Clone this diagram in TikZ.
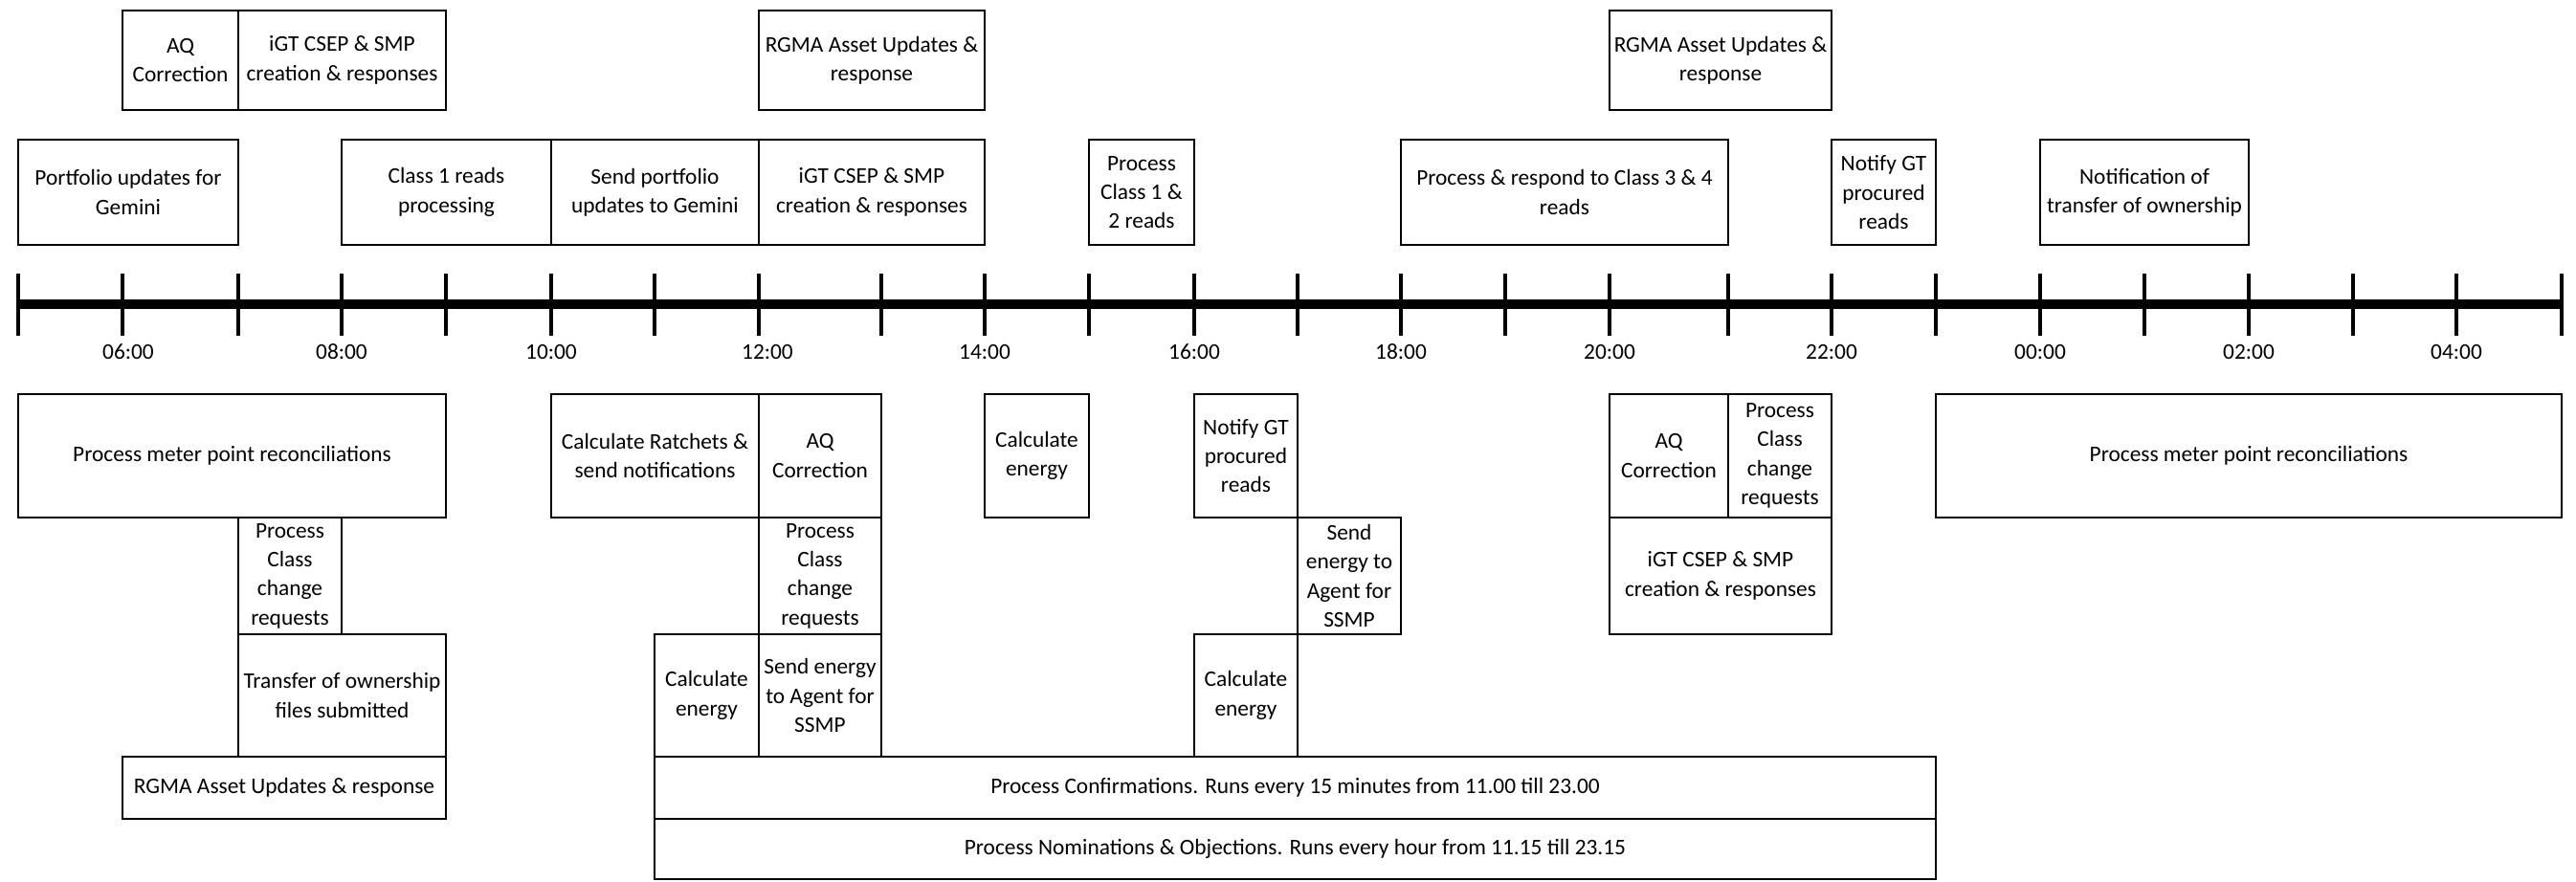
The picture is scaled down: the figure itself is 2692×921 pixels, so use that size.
\documentclass[tikz,border=0pt]{standalone}
\usepackage{fontspec}
\setmainfont{Carlito}
\usepackage{tikz}

\tikzset{
  box/.style={line width=0.9pt},
  txt/.style={align=center, inner sep=0pt},
  axis/.style={line width=6pt},
  tick/.style={line width=2.3pt}
}

\begin{document}
\begin{tikzpicture}[x=0.02cm, y=-0.02cm, font=\fontsize{13.3}{17.3}\selectfont]
        \useasboundingbox (0,0) rectangle (2692,921);

        % time axis
        \draw [axis]  (19,318) -- (2677,318);                          %
        \foreach \x in {19,128,249,357,466,576,684,793,921,1029,1138,1248,1356,
                        1464,1573,1682,1806,1914,2023,2132,2241,2350,2459,2567,2677}
          \draw [tick] (\x,286) -- (\x,351);                           %
        \foreach \x/\t [count=\i] in {134/06:00,357/08:00,576/10:00,802/12:00,1029/14:00,1248/16:00,
                        1464/18:00,1682/20:00,1914/22:00,2132/00:00,2350/02:00,2567/04:00}
          \node (hour\i) at (\x,368) {\t};                            %

        % top row
        \draw [box] (128,11) rectangle (249,115);                      %AQ
        \node (aqTop) [txt] at (188.5,63) {AQ\\Correction};            %
        \draw [box] (249,11) rectangle (466,115);                      %iGT
        \node (igtTop) [txt] at (357.5,63) {iGT CSEP \& SMP\\creation \& responses};
        \draw [box] (793,11) rectangle (1029,115);                     %RGMA
        \node (rgmaNoon) [txt] at (911,63) {RGMA Asset Updates \&\\response};
        \draw [box] (1682,11) rectangle (1914,115);                    %RGMA
        \node (rgmaEve) [txt] at (1798,63) {RGMA Asset Updates \&\\response};

        % second row
        \draw [box] (19,146) rectangle (249,256);                      %
        \node (portfolio) [txt] at (134,201) {Portfolio updates for\\Gemini};
        \draw [box] (357,146) rectangle (576,256);                     %
        \node (classOne) [txt] at (466.5,201) {Class 1 reads\\processing};
        \draw [box] (576,146) rectangle (793,256);                     %
        \node (sendPortfolio) [txt] at (684.5,201) {Send portfolio\\updates to Gemini};
        \draw [box] (793,146) rectangle (1029,256);                    %
        \node (igtMid) [txt] at (911,201) {iGT CSEP \& SMP\\creation \& responses};
        \draw [box] (1138,146) rectangle (1248,256);                   %
        \node (classOneTwo) [txt] at (1193,201) {Process\\Class 1 \&\\2 reads};
        \draw [box] (1464,146) rectangle (1806,256);                   %
        \node (classThreeFour) [txt] at (1635,201) {Process \& respond to Class 3 \& 4\\reads};
        \draw [box] (1914,146) rectangle (2023,256);                   %
        \node (notifyTop) [txt] at (1968.5,201) {Notify GT\\procured\\reads};
        \draw [box] (2132,146) rectangle (2350,256);                   %
        \node (transferTop) [txt] at (2241,201) {Notification of\\transfer of ownership};

        % below the axis, morning
        \draw [box] (19,412) rectangle (466,541);                      %
        \node (reconAm) [txt] at (242.5,476.5) {Process meter point reconciliations};
        \draw [box] (249,541) rectangle (357,663);                     %
        \node (classChgAm) [txt] at (303,602) {Process\\Class\\change\\requests};
        \draw [box] (249,663) rectangle (466,791);                     %
        \node (transferFiles) [txt] at (357.5,727) {Transfer of ownership\\files submitted};
        \draw [box] (128,791) rectangle (466,856);                     %
        \node (rgmaLow) [txt] at (297,823.5) {RGMA Asset Updates \& response};

        % below the axis, noon
        \draw [box] (576,412) rectangle (793,541);                     %
        \node (ratchets) [txt] at (684.5,476.5) {Calculate Ratchets \&\\send notifications};
        \draw [box] (793,412) rectangle (921,541);                     %
        \node (aqNoon) [txt] at (857,476.5) {AQ\\Correction};
        \draw [box] (793,541) rectangle (921,663);                     %
        \node (classChgNoon) [txt] at (857,602) {Process\\Class\\change\\requests};
        \draw [box] (684,663) rectangle (793,791);                     %
        \node (energyNoon) [txt] at (738.5,727) {Calculate\\energy};
        \draw [box] (793,663) rectangle (921,791);                     %
        \node (sendEnergyNoon) [txt] at (857,727) {Send energy\\to Agent for\\SSMP};
        \draw [box] (684,791) rectangle (2023,856);                    %
        \node (confirm) [txt] at (1353.5,823.5) {Process Confirmations. Runs every 15 minutes from 11.00 till 23.00};
        \draw [box] (684,856) rectangle (2023,919);                    %
        \node (nominate) [txt] at (1353.5,887.5) {Process Nominations \& Objections. Runs every hour from 11.15 till 23.15};

        % below the axis, afternoon
        \draw [box] (1029,412) rectangle (1138,541);                   %
        \node (energyPm) [txt] at (1083.5,476.5) {Calculate\\energy};
        \draw [box] (1248,412) rectangle (1356,541);                   %
        \node (notifyLow) [txt] at (1302,476.5) {Notify GT\\procured\\reads};
        \draw [box] (1356,541) rectangle (1464,663);                   %
        \node (sendEnergyPm) [txt] at (1410,602) {Send\\energy to\\Agent for\\SSMP};
        \draw [box] (1248,663) rectangle (1356,791);                   %
        \node (energyLate) [txt] at (1302,727) {Calculate\\energy};

        % below the axis, evening
        \draw [box] (1682,412) rectangle (1806,541);                   %
        \node (aqEve) [txt] at (1744,476.5) {AQ\\Correction};
        \draw [box] (1806,412) rectangle (1914,541);                   %
        \node (classChgEve) [txt] at (1860,476.5) {Process\\Class\\change\\requests};
        \draw [box] (1682,541) rectangle (1914,663);                   %
        \node (igtLow) [txt] at (1798,602) {iGT CSEP \& SMP\\creation \& responses};
        \draw [box] (2023,412) rectangle (2677,541);                   %
        \node (reconNight) [txt] at (2350,476.5) {Process meter point reconciliations};
\end{tikzpicture}
\end{document}
